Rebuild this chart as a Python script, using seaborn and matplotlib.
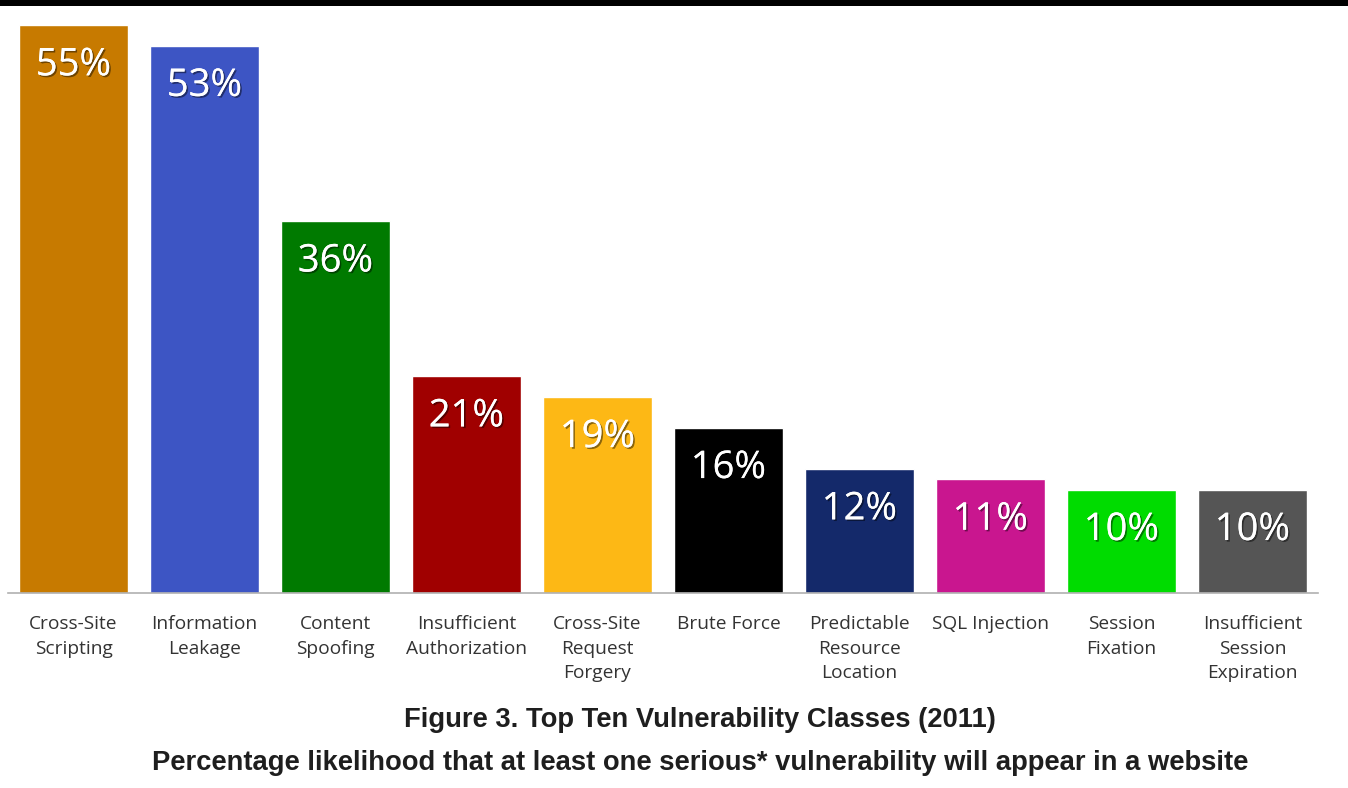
import matplotlib
matplotlib.use("Agg")
import matplotlib.pyplot as plt
import matplotlib.patheffects as pe
from matplotlib.patches import Rectangle
import numpy as np
import pandas as pd
import seaborn as sns

categories = ["Cross-Site\nScripting", "Information\nLeakage", "Content\nSpoofing",
              "Insufficient\nAuthorization", "Cross-Site\nRequest\nForgery", "Brute Force",
              "Predictable\nResource\nLocation", "SQL Injection", "Session\nFixation",
              "Insufficient\nSession\nExpiration"]
values = [55, 53, 36, 21, 19, 16, 12, 11, 10, 10]
colors = ["#C77A00", "#3D55C4", "#007A00", "#A00000", "#FDB815",
          "#000000", "#14296A", "#C9168F", "#00DC00", "#555555"]
title = "Figure 3. Top Ten Vulnerability Classes (2011)"
subtitle = "Percentage likelihood that at least one serious* vulnerability will appear in a website"

df = pd.DataFrame({"cls": categories, "pct": values})

sns.set_style("white")
fig = plt.figure(figsize=(13.48, 7.88), dpi=100)
ax = fig.add_axes([8/1348, 1 - 593/788, 1310/1348, 568/788])

sns.barplot(data=df, x="cls", y="pct", hue="cls", palette=colors, legend=False,
            width=0.825, saturation=1, ax=ax)
ax.set_ylim(0, 55)
ax.set_xlim(-0.5, len(categories) - 0.5)

# percent labels inside the bars
for i, v in enumerate(values):
    ax.annotate(f"{v}%", (i, v), xytext=(0, -29), textcoords="offset points",
                ha="center", va="center", color="white", fontsize=27.5,
                family=["Open Sans", "DejaVu Sans"],
                path_effects=[pe.withSimplePatchShadow(offset=(1.2, -1.2), shadow_rgbFace="black", alpha=0.45),
                              pe.Normal()])

for s in ["top", "right", "left"]:
    ax.spines[s].set_visible(False)
ax.spines["bottom"].set_color("#b0b0b0")
ax.spines["bottom"].set_linewidth(1.2)
ax.set_yticks([])
ax.set_xlabel("")
ax.set_ylabel("")
ax.set_xticks(np.arange(-0.5, len(categories)), minor=True)
ax.tick_params(axis="x", which="minor", length=5, color="#b0b0b0", width=1.2, direction="out")
ax.tick_params(axis="x", which="major", length=0, pad=16)
for lab in ax.get_xticklabels():
    lab.set_fontsize(13.8)
    lab.set_family(["Open Sans", "DejaVu Sans"])
    lab.set_color("#333333")
    lab.set_linespacing(1.45)
    lab.set_verticalalignment("top")

fig.text(700/1348, 1 - 720/788, title, ha="center", va="center", fontsize=19.7,
         fontweight="bold", family=["Liberation Sans", "DejaVu Sans"], color="#1e1e1e")
fig.text(700/1348, 1 - 763/788, subtitle, ha="center", va="center", fontsize=19.7,
         fontweight="bold", family=["Liberation Sans", "DejaVu Sans"], color="#1e1e1e")

# black strip along the top edge
fig.add_artist(Rectangle((0, 1 - 6/788), 1, 6/788, transform=fig.transFigure,
                         facecolor="black", edgecolor="none"))

fig.savefig("out.png", dpi=100)
